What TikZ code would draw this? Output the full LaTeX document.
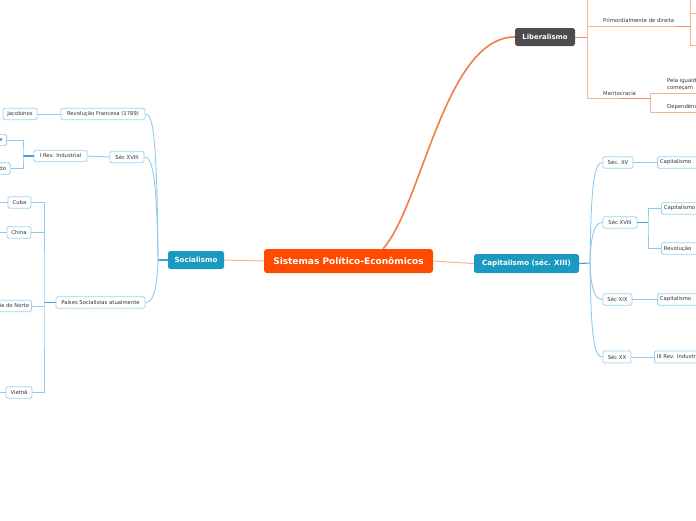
\documentclass[tikz,border=0pt]{standalone}
\usepackage{fontspec}
\setmainfont{DejaVu Sans}
\definecolor{rootc}{HTML}{FF4A00}
\definecolor{mainblue}{HTML}{1A9AC0}
\definecolor{libgray}{HTML}{4D4D4D}
\definecolor{subline}{HTML}{9CD3F2}
\definecolor{bline}{HTML}{8FCBEF}
\definecolor{btrunk}{HTML}{3FA3DE}
\definecolor{oline}{HTML}{F7B493}
\definecolor{odark}{HTML}{F08C55}
\definecolor{ocurve}{HTML}{F07E45}
\definecolor{txt}{HTML}{333333}
\begin{document}
\begin{tikzpicture}[x=1pt,y=-1pt,
  rootbox/.style={fill=rootc, rounded corners=3, text=white, font=\bfseries\fontsize{9}{10}\selectfont, minimum width=169, minimum height=24, inner sep=0},
  mainbox/.style={fill=mainblue, rounded corners=2.5, text=white, font=\bfseries\fontsize{7.1}{8}\selectfont, minimum height=18, inner sep=0},
  libbox/.style={fill=libgray, rounded corners=2.5, text=white, font=\bfseries\fontsize{6.9}{8}\selectfont, minimum width=60, minimum height=18, inner sep=0},
  subbox/.style={draw=subline, line width=0.9, fill=white, rounded corners=1.5, text=txt, font=\fontsize{5.3}{6}\selectfont, minimum height=11.5, inner xsep=2.5, inner ysep=0},
  plaintxt/.style={text=txt, font=\fontsize{5.3}{7}\selectfont, inner sep=0, align=left},
  bconn/.style={draw=bline, line width=0.9},
  btr/.style={draw=btrunk, line width=1.1},
  oconn/.style={draw=oline, line width=1},
  odk/.style={draw=odark, line width=1}]
\useasboundingbox (0,0) rectangle (696,520);
\clip (0,0) rectangle (696,520);

% ---------- main topics ----------
\node[rootbox] (root) at (348.5,261) {Sistemas Político-Econômicos};
\node[mainbox, minimum width=56] (soc) at (196,260) {Socialismo};
\node[mainbox, minimum width=105, minimum height=19] (cap) at (526.5,263.5) {Capitalismo (séc. XIII)};
\node[libbox] (lib) at (545,37) {Liberalismo};

\draw[oconn] (root.west) -- (soc.east);
\draw[oconn] (root.east) -- (cap.west);
\draw[draw=ocurve, line width=1.6] ([xshift=34.5]root.north) .. controls (422,205) and (445,37) .. (lib.west);

% ---------- Socialismo ----------
\node[subbox, minimum width=84] (rf) at (103,114) {Revolução Francesa (1789)};
\node[subbox, minimum width=34] (s18l) at (127,157) {Séc XVIII};
\node[subbox, minimum width=89] (ps) at (100.5,302.5) {Países Socialistas atualmente};
\node[subbox, minimum width=34] (jac) at (20,114) {Jacobinos};
\node[subbox, minimum width=53] (iri) at (60.5,156) {I Rev. Industrial};
\node[subbox, minimum width=40, text width=32, align=right, anchor=east] (ire1) at (7,140) {e};
\node[subbox, minimum width=40, text width=32, align=right, anchor=east] (ire2) at (10.5,168.5) {do};
\node[subbox, minimum width=23] (cuba) at (19.5,202.5) {Cuba};
\node[subbox, minimum width=24] (china) at (19,232.5) {China};
\node[subbox, anchor=east] (coreia) at (32,306) {Coreia do Norte};
\node[subbox, minimum width=26] (viet) at (19,392.5) {Vietnã};

\coordinate (sj) at (158,260);
\draw[btr] (soc.west) -- (sj);
\draw[bconn] (sj) .. controls (157,135) and (153,114) .. (rf.east);
\draw[bconn] (sj) .. controls (157,175) and (152,157) .. (s18l.east);
\draw[bconn] (sj) .. controls (157,290) and (153,302.5) .. (ps.east);
\draw[bconn] (rf.west) -- (jac.east);
\draw[bconn] (s18l.west) -- (iri.east);
\coordinate (ib) at (23,156);
\draw[btr] (iri.west) -- (ib);
\draw[bconn] (ire1.east) -| (ib) |- (ire2.east);
\coordinate (pb) at (44,302.5);
\draw[btr] (ps.west) -- (pb);
\draw[bconn] (cuba.east) -| (pb) |- (viet.east);
\draw[bconn] (china.east) -- (china.east -| pb);
\draw[bconn] (coreia.east) -- (coreia.east -| pb);
\coordinate (cubaL) at (-5,202.5);
\coordinate (chinaL) at (-5,232.5);
\coordinate (vietL) at (-5,392.5);
\draw[bconn] (cuba.west) -- (cubaL);
\draw[bconn] (china.west) -- (chinaL);
\draw[bconn] (viet.west) -- (vietL);

% ---------- Capitalismo ----------
\node[subbox, minimum width=30] (s15) at (618,162.5) {Séc. XV};
\node[subbox, minimum width=34] (s18) at (620,222.5) {Séc XVIII};
\node[subbox, minimum width=29] (s19) at (617.5,299.5) {Séc XIX};
\node[subbox, minimum width=28, minimum height=12] (s20) at (617,357) {Séc XX};
\node[subbox, anchor=west, text width=60, align=left] (c15) at (657,162.5) {Capitalismo};
\node[subbox, anchor=west, text width=60, align=left] (c18a) at (661,208.5) {Capitalismo};
\node[subbox, anchor=west, text width=60, align=left] (c18b) at (661,248.5) {Revolução};
\node[subbox, anchor=west, text width=60, align=left] (c19) at (657,299.5) {Capitalismo};
\node[subbox, anchor=west, text width=60, align=left, minimum height=12] (c20) at (654,357) {III Rev. Industrial};

\coordinate (cj) at (590,263);
\draw[btr] (cap.east) -- (cj);
\draw[bconn] (cj) .. controls (591,178) and (595,162.5) .. (s15.west);
\draw[bconn] (cj) .. controls (591,232) and (595,222.5) .. (s18.west);
\draw[bconn] (cj) .. controls (591,290) and (595,299.5) .. (s19.west);
\draw[bconn] (cj) .. controls (591,345) and (595,357) .. (s20.west);
\draw[bconn] (s15.east) -- (c15.west);
\coordinate (b18) at (648,222.5);
\draw[btr] (s18.east) -- (b18);
\draw[bconn] (c18a.west) -| (b18) |- (c18b.west);
\draw[bconn] (s19.east) -- (c19.west);
\draw[bconn] (s20.east) -- (c20.west);

% ---------- Liberalismo ----------
\coordinate (lj) at (587,37);
\coordinate (ltop) at (587,-5);
\coordinate (pd) at (587,26);
\coordinate (pdR) at (690,26);
\coordinate (mc) at (587,98.5);
\coordinate (mcR) at (650,98.5);
\draw[odk] (lib.east) -- (lj);
\draw[oconn] (ltop) -- (mc) -- (mcR);
\draw[oconn] (pd) -- (pdR);
\draw[odk] (677,26) -- (pdR);
\draw[odk] (620,98.5) -- (mcR);
\node[plaintxt, anchor=south west] (prim) at (603,23) {Primordialmente de direita};
\node[plaintxt, anchor=south west] (merit) at (603,96) {Meritocracia};
% sub-branches of "Primordialmente de direita"
\coordinate (pbT) at (690,0);
\coordinate (pbB) at (690,45);
\coordinate (pbT2) at (690,13);
\coordinate (pbTR) at (700,13);
\coordinate (pbBR) at (700,45);
\draw[oconn] (pbT) -- (pbB) -- (pbBR);
\draw[oconn] (pbT2) -- (pbTR);
% sub-branches of "Meritocracia"
\coordinate (mbT) at (650,93);
\coordinate (mbB) at (650,112);
\coordinate (mbTR) at (700,93);
\coordinate (mbBR) at (700,112);
\draw[oconn] (mbTR) -- (mbT) -- (mbB) -- (mbBR);
\node[plaintxt, anchor=south west] (igual) at (667,90.5) {Pela igualdade\\começam};
\node[plaintxt, anchor=south west] (dep) at (667,109.5) {Dependência};
\end{tikzpicture}
\end{document}
